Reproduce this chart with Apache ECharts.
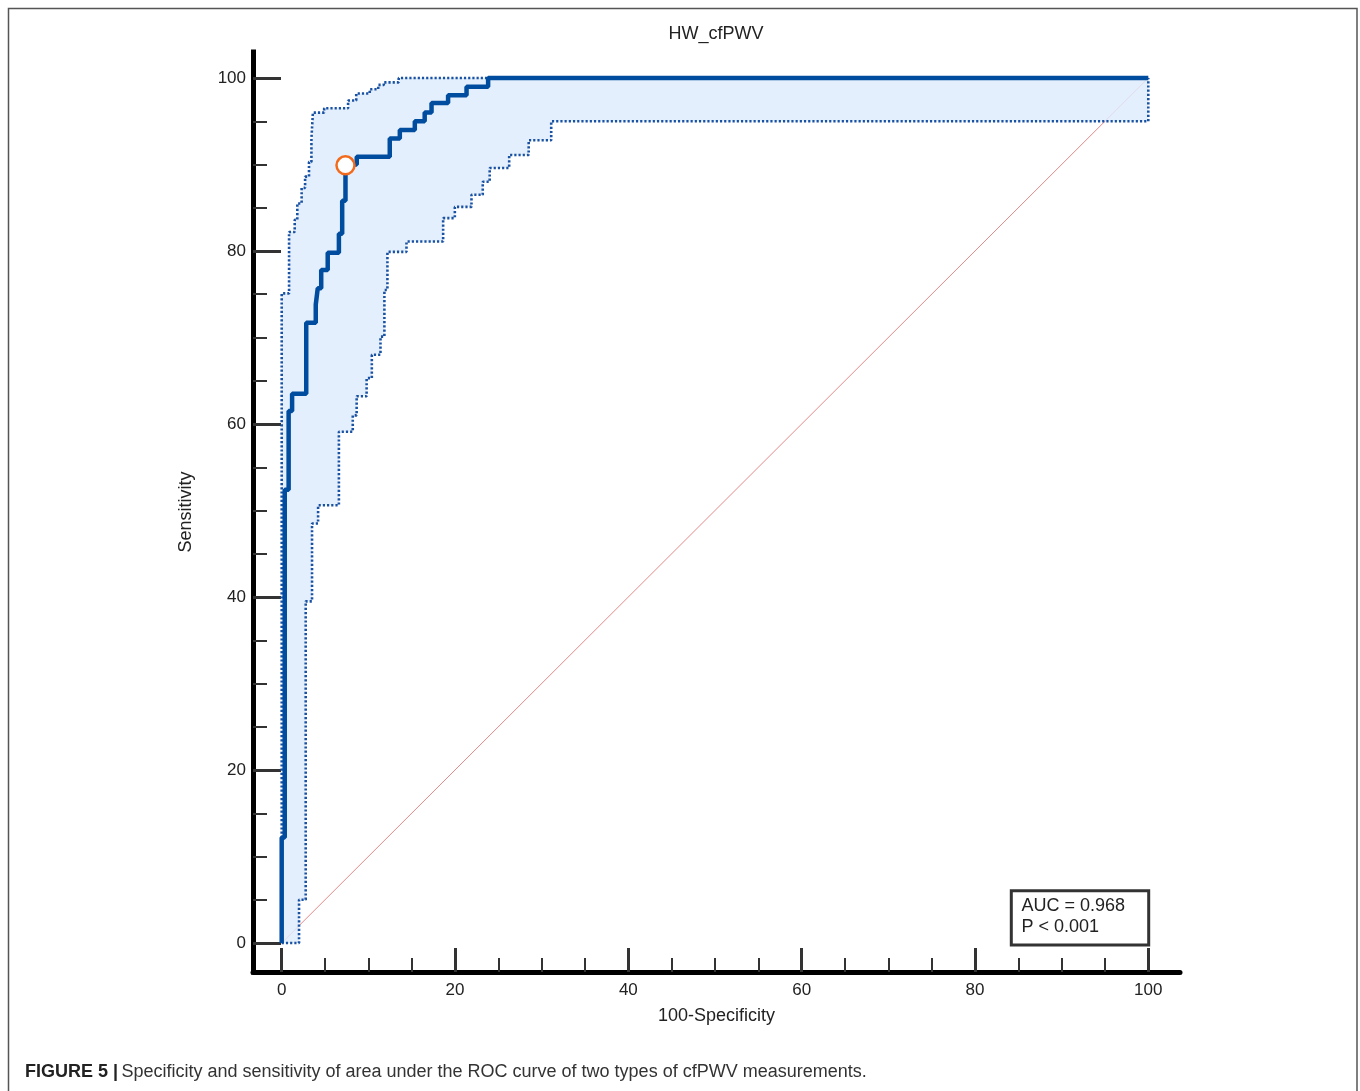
<!DOCTYPE html>
<html><head><meta charset="utf-8">
<script src="https://cdn.jsdelivr.net/npm/echarts@6/dist/echarts.min.js"></script>
<style>html,body{margin:0;padding:0;background:#fff}#c{width:1360px;height:1091px}</style>
</head><body><div id="c"></div>
<script>
// ROC curve vertices: vertical at fpr[i] from sens[i] to sens[i+1], then horizontal to fpr[i+1]
const rocFpr  = [0, 0.35, 0.8, 1.2, 2.83, 3.93, 4.16, 4.56, 5.31, 6.6, 6.98, 7.36, 8.66, 12.47, 13.63, 15.36, 16.5, 17.29, 19.2, 21.33, 23.82, 100];
const rocSens = [0, 12.2, 52.4, 61.5, 63.5, 71.7, 73.8, 75.7, 77.8, 79.8, 82.0, 85.8, 90.0, 90.9, 93.0, 94.0, 95.0, 96.0, 97.1, 98.0, 99.0, 100];
// Upper confidence bound
const upperFpr  = [0, 0.85, 1.5, 1.8, 2.3, 2.7, 3.15, 3.43, 3.6, 4.9, 7.66, 8.6, 10.16, 11.14, 11.78, 13.5, 100];
const upperSens = [0, 75.1, 82.2, 83.6, 85.5, 87.3, 88.6, 90.3, 93.0, 96.0, 96.5, 97.4, 98.2, 98.7, 99.2, 99.5, 100];
// Lower confidence bound
const lowerFpr  = [0, 2.0, 2.77, 3.5, 4.2, 6.6, 8.2, 8.65, 9.8, 10.4, 11.4, 11.85, 12.2, 14.4, 18.63, 19.98, 21.9, 23.2, 24.0, 26.25, 28.5, 31.1, 100, 100];
const lowerSens = [0, 0, 5.0, 39.5, 48.5, 50.6, 59.1, 61.0, 63.2, 65.3, 68.0, 70.1, 75.5, 79.9, 81.1, 83.8, 85.1, 86.5, 88.0, 89.6, 91.1, 92.8, 95.0, 100];
// Optimal cut-off point
const cutoffPoint = [7.36, 89.9];
// Reference diagonal
const diagonal = [[0, 0], [100, 100]];
// Tick values
const majorTicks = [0, 20, 40, 60, 80, 100];
const minorTicks = [5, 10, 15, 25, 30, 35, 45, 50, 55, 65, 70, 75, 85, 90, 95];
const titleText = 'HW_cfPWV';
const xName = '100-Specificity';
const yName = 'Sensitivity';
const aucText = 'AUC = 0.968';
const pText = 'P < 0.001';

function toSteps(xs, ys) {
  const pts = [];
  for (let i = 0; i < xs.length - 1; i++) {
    pts.push([xs[i], ys[i]]);
    pts.push([xs[i], ys[i + 1]]);
  }
  pts.push([xs[xs.length - 1], ys[ys.length - 1]]);
  return pts;
}
const rocPts = toSteps(rocFpr, rocSens);
const upperPts = toSteps(upperFpr, upperSens);
const lowerPts = toSteps(lowerFpr, lowerSens);

const FONT = 'Liberation Sans, Arial, sans-serif';
const X0 = 281.7, XS = 8.666, Y0 = 943, YS = 8.65;
const gL = 253, gR = 1180, gT = 52, gB = 972;
const xMin = (gL - X0) / XS, xMax = (gR - X0) / XS;
const yMin = -(gB - Y0) / YS, yMax = (Y0 - gT) / YS;

const chart = echarts.init(document.getElementById('c'), null, {renderer: 'canvas'});
const axisCommonX = {type: 'value', min: xMin, max: xMax, position: 'bottom', splitLine: {show: false}};
const axisCommonY = {type: 'value', min: yMin, max: yMax, position: 'left', splitLine: {show: false}};
chart.setOption({
  animation: false,
  backgroundColor: '#fff',
  title: {
    text: titleText, left: 716, top: 25, padding: 0, textAlign: 'center',
    textStyle: {fontFamily: FONT, fontSize: 18, fontWeight: 'normal', color: '#222'}
  },
  grid: {left: gL, top: gT, right: 1360 - gR, bottom: 1091 - gB, containLabel: false},
  xAxis: [
    Object.assign({}, axisCommonX, {
      name: xName, nameLocation: 'middle', nameGap: 35,
      nameTextStyle: {fontFamily: FONT, fontSize: 18, color: '#222'},
      axisLine: {show: true, onZero: false, lineStyle: {color: '#000', width: 5}},
      axisTick: {show: true, inside: true, length: 24, customValues: majorTicks, lineStyle: {color: '#333', width: 3}},
      axisLabel: {show: true, customValues: majorTicks, margin: 10, fontFamily: FONT, fontSize: 17, color: '#222'}
    }),
    Object.assign({}, axisCommonX, {
      axisLine: {show: false, onZero: false},
      axisTick: {show: true, inside: true, length: 14, customValues: minorTicks, lineStyle: {color: '#333', width: 2}},
      axisLabel: {show: false}
    })
  ],
  yAxis: [
    Object.assign({}, axisCommonY, {
      name: yName, nameLocation: 'middle', nameGap: 58, nameRotate: 90,
      nameTextStyle: {fontFamily: FONT, fontSize: 18, color: '#222'},
      axisLine: {show: true, onZero: false, lineStyle: {color: '#000', width: 5, cap: 'square'}},
      axisTick: {show: true, inside: true, length: 28, customValues: majorTicks, lineStyle: {color: '#333', width: 3}},
      axisLabel: {show: true, customValues: majorTicks, margin: 7, fontFamily: FONT, fontSize: 17, color: '#222'}
    }),
    Object.assign({}, axisCommonY, {
      axisLine: {show: false, onZero: false},
      axisTick: {show: true, inside: true, length: 14, customValues: minorTicks, lineStyle: {color: '#333', width: 2}},
      axisLabel: {show: false}
    })
  ],
  series: [
    {
      type: 'line', data: diagonal, symbol: 'none', z: 1, silent: true,
      lineStyle: {color: '#e58a8a', width: 1}
    },
    {
      type: 'custom', z: 2, silent: true, data: [[0, 0]],
      renderItem: function (params, api) {
        const pts = upperPts.concat(lowerPts.slice().reverse()).map(function (p) { return api.coord(p); });
        return {type: 'polygon', shape: {points: pts}, style: {fill: 'rgba(222,236,253,0.82)'}};
      }
    },
    {
      type: 'line', data: upperPts, symbol: 'none', z: 3, silent: true,
      lineStyle: {color: '#1a52a3', width: 2.6, type: [2.2, 2]}
    },
    {
      type: 'line', data: lowerPts, symbol: 'none', z: 3, silent: true,
      lineStyle: {color: '#1a52a3', width: 2.6, type: [2.2, 2]}
    },
    {
      type: 'line', data: rocPts, symbol: 'none', z: 4, silent: true,
      lineStyle: {color: '#004c9e', width: 4.5}
    },
    {
      type: 'scatter', data: [cutoffPoint], symbol: 'circle', symbolSize: 18, z: 6, silent: true,
      itemStyle: {color: '#fff', borderColor: '#f26b1d', borderWidth: 2.5, opacity: 1}
    }
  ],
  graphic: [
    {type: 'rect', silent: true, shape: {x: 8.5, y: 8.5, width: 1348.5, height: 1200},
     style: {fill: 'none', stroke: '#555', lineWidth: 1.5}},
    {type: 'rect', silent: true, shape: {x: 1011.3, y: 890.7, width: 137.4, height: 54.3},
     style: {fill: '#fff', stroke: '#333', lineWidth: 3}, z: 10},
    {type: 'text', silent: true, x: 1021.5, y: 906, z: 11,
     style: {text: aucText, font: '18px ' + FONT, fill: '#222', verticalAlign: 'middle'}},
    {type: 'text', silent: true, x: 1021.5, y: 927.5, z: 11,
     style: {text: pText, font: '18px ' + FONT, fill: '#222', verticalAlign: 'middle'}},
    {type: 'text', silent: true, x: 25, y: 1072, z: 11,
     style: {
       text: '{b|FIGURE 5 |} {r|Specificity and sensitivity of area under the ROC curve of two types of cfPWV measurements.}',
       verticalAlign: 'middle',
       rich: {
         b: {fontFamily: FONT, fontSize: 18, fontWeight: 'bold', fill: '#222'},
         r: {fontFamily: FONT, fontSize: 18, fill: '#333'}
       }
     }}
  ]
});
</script>
</body></html>
